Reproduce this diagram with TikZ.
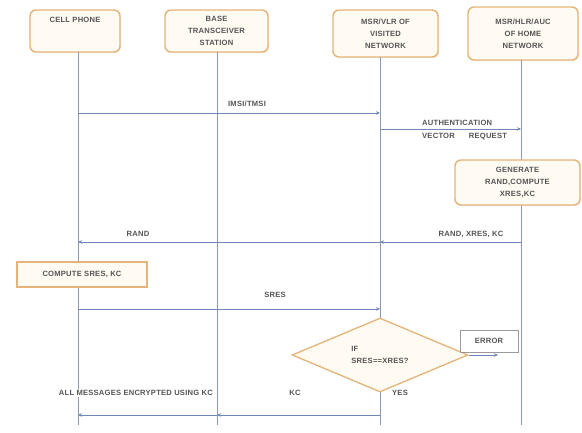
\documentclass[tikz,border=0pt]{standalone}
\usepackage{fontspec}
\setmainfont{Liberation Sans}
\newfontfamily\lblfont[LetterSpace=3]{Liberation Sans}
\usetikzlibrary{arrows.meta,shapes.geometric,shadows}

\definecolor{boxedge}{HTML}{E6B478}
\definecolor{boxfill}{HTML}{FFFAF2}
\definecolor{lifeclr}{HTML}{8C98B6}
\definecolor{msgclr}{HTML}{7088B8}
\definecolor{txtclr}{HTML}{555555}
\definecolor{errclr}{HTML}{9A9A9A}

\tikzset{
  lbl/.style={font=\lblfont\bfseries\fontsize{7.6}{12}\selectfont, text=txtclr, inner sep=1pt, align=center},
  actorbox/.style={lbl, draw=boxedge, line width=1.4pt, fill=boxfill, rounded corners=6pt,
    drop shadow={opacity=0.12, shadow xshift=1pt, shadow yshift=-1pt}},
  actionbox/.style={lbl, draw=boxedge, line width=1.4pt, fill=boxfill,
    drop shadow={opacity=0.12, shadow xshift=1pt, shadow yshift=-1pt}},
  decision/.style={lbl, align=left, shape=diamond, draw=boxedge, line width=1.3pt, fill=boxfill,
    aspect=2.38, minimum width=176pt, minimum height=74pt, inner sep=0pt},
  errorbox/.style={lbl, draw=errclr, line width=0.8pt, fill=white},
  lifeline/.style={draw=lifeclr, line width=0.9pt},
  msg/.style={draw=msgclr, line width=0.9pt, -{Stealth[length=4pt,width=3.5pt]}},
}

\begin{document}
\begin{tikzpicture}[x=1pt,y=-1pt]
\useasboundingbox[fill=white] (0,0) rectangle (582,432);

% participants
\node[actorbox, minimum width=90pt, minimum height=42pt] (cell) at (75,31) {CELL PHONE\\[10pt]};
\node[actorbox, minimum width=103pt, minimum height=42pt] (bts) at (216.5,31) {BASE\\TRANSCEIVER\\STATION};
\node[actorbox, minimum width=105pt, minimum height=47pt] (vlr) at (385.5,33.5) {MSR/VLR OF\\VISITED\\NETWORK};
\node[actorbox, minimum width=110pt, minimum height=53pt] (home) at (523,33.5) {MSR/HLR/AUC\\OF HOME\\NETWORK};

% lifelines
\coordinate (cellTop) at (78,52);   \coordinate (cellEnd) at (78,425);
\coordinate (btsTop)  at (217,52);  \coordinate (btsEnd)  at (217,425);
\coordinate (vlrTop)  at (380,57);  \coordinate (vlrEnd)  at (380,425);
\coordinate (homeTop) at (521,60);  \coordinate (homeEnd) at (521,425);
\draw[lifeline] (cellTop) -- (cellEnd);
\draw[lifeline] (btsTop) -- (btsEnd);
\draw[lifeline] (vlrTop) -- (vlrEnd);
\draw[lifeline] (homeTop) -- (homeEnd);

% identity request towards the visited network
\draw[msg] (cellTop |- 0,113) -- (vlrTop |- 0,113);
\node[lbl] (imsi) at (247,104) {IMSI/TMSI};

% authentication vector request
\draw[msg] (vlrTop |- 0,129) -- (homeTop |- 0,129);
\node[lbl, anchor=west] (avr1) at (421,123) {AUTHENTICATION};
\node[lbl, anchor=west] (avr2) at (421,137) {VECTOR\hspace{14pt}REQUEST};

% home network computes the triplet
\node[actorbox, minimum width=125pt, minimum height=45pt] (gen) at (517.5,182.5) {GENERATE\\RAND,COMPUTE\\XRES,KC};

% triplet back to the visited network, challenge to the phone
\draw[msg] (homeTop |- 0,242) -- (vlrTop |- 0,242);
\node[lbl] (trip) at (471,234) {RAND, XRES, KC};
\draw[msg] (vlrTop |- 0,242) -- (cellTop |- 0,242);
\node[lbl] (rand) at (138,234) {RAND};

% phone computes its response
\node[actionbox, minimum width=130pt, minimum height=25pt] (comp) at (82,274.5) {COMPUTE SRES, KC};

\draw[msg] (cellTop |- 0,309) -- (vlrTop |- 0,309);
\node[lbl] (sres) at (275,295) {SRES};

% check of the response
\node[decision] (dec) at (380,355) {IF\\SRES==XRES?};
\node[errorbox, minimum width=58pt, minimum height=22pt] (err) at (489,341) {ERROR};
\coordinate (errTip) at (498,355);
\draw[msg] (dec.east) -- (errTip);

% ciphering
\node[lbl] (kc) at (295,393) {KC};
\node[lbl] (yes) at (400,393) {YES};
\node[lbl, fill=white, anchor=east] (allmsg) at (214,393) {ALL MESSAGES ENCRYPTED USING KC};
\draw[msg] (vlrTop |- 0,415) -- (btsTop |- 0,415);
\draw[msg] (btsTop |- 0,415) -- (cellTop |- 0,415);
\end{tikzpicture}
\end{document}
